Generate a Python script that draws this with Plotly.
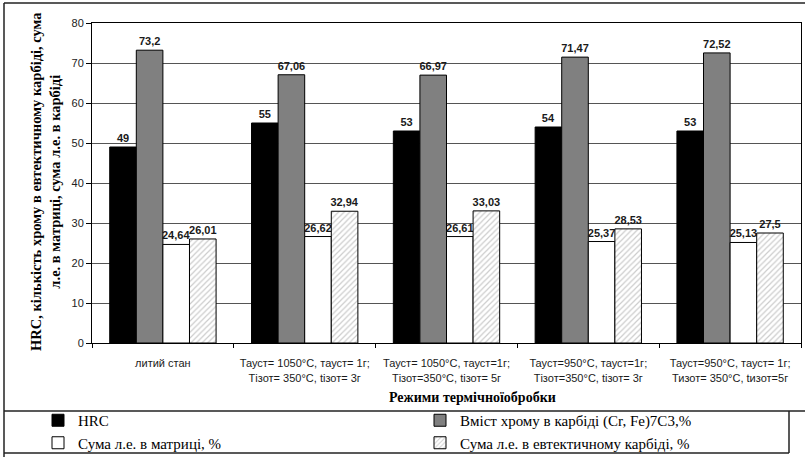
import plotly.graph_objects as go

# Heat-treatment regimes (x categories)
categories = [
    "литий стан",
    "Тауст= 1050°C, тауст= 1г;<br>Тізот= 350°C, tізот= 3г",
    "Тауст= 1050°C, тауст=1г;<br>Тізот=350°C, tізот= 5г",
    "Тауст=950°C, тауст=1г;<br>Тізот=350°C, tізот= 3г",
    "Тауст=950°C, тауст= 1г;<br>Тизот= 350°C, tизот=5г",
]

# Measured series
hrc = [49, 55, 53, 54, 53]
cr_carbide = [73.2, 67.06, 66.97, 71.47, 72.52]
alloy_matrix = [24.64, 26.62, 26.61, 25.37, 25.13]
alloy_eutectic = [26.01, 32.94, 33.03, 28.53, 27.5]

series_names = [
    "HRC",
    "Вміст хрому в карбіді (Cr, Fe)7C3,%",
    "Сума л.е. в матриці, %",
    "Сума л.е. в евтектичному карбіді, %",
]

y_ticks = [0, 10, 20, 30, 40, 50, 60, 70, 80]


def comma_label(v):
    return f"{v:g}".replace(".", ",")


W, H = 805, 457
L, R, T, B = 92, 4, 23, 114
PW, PH = W - L - R, H - T - B


def px(x):
    return (x - L) / PW


def py(y):
    return (H - B - y) / PH


fig = go.Figure()

styles = [
    dict(color="#000000"),
    dict(color="#808080"),
    dict(color="#ffffff"),
    dict(color="#ffffff", pattern=dict(shape="/", fgcolor="#9a9a9a",
                                       bgcolor="#ffffff", size=4, solidity=0.3)),
]

for name, vals, st in zip(series_names,
                          [hrc, cr_carbide, alloy_matrix, alloy_eutectic],
                          styles):
    fig.add_trace(go.Bar(
        name=name,
        x=categories,
        y=vals,
        text=[comma_label(v) for v in vals],
        textposition="outside",
        textfont=dict(family="Liberation Sans", size=11, color="#1a1a1a",
                      weight="bold"),
        constraintext="none",
        cliponaxis=False,
        marker=dict(line=dict(color="#000000", width=1), **st),
    ))

fig.update_layout(
    width=W, height=H,
    margin=dict(l=L, r=R, t=T, b=B, autoexpand=False),
    paper_bgcolor="white",
    plot_bgcolor="white",
    barmode="group",
    bargap=0.25,
    bargroupgap=0,
    font=dict(family="Liberation Sans", size=10, color="#1a1a1a"),
    showlegend=True,
    legend=dict(
        orientation="h",
        x=px(38), xanchor="left",
        y=py(404), yanchor="top",
        entrywidth=337, entrywidthmode="pixels",
        font=dict(family="Liberation Serif", size=15, color="#000000"),
        bgcolor="rgba(0,0,0,0)",
        tracegroupgap=0,
        traceorder="normal",
        itemwidth=30,
    ),
)

fig.update_yaxes(
    range=[0, 80],
    tickvals=y_ticks,
    ticks="outside", ticklen=5, tickcolor="#000000",
    tickfont=dict(family="Liberation Sans", size=11, color="#222222"),
    showline=True, linecolor="#000000", linewidth=1, mirror=True,
    showgrid=True, gridcolor="#555555", gridwidth=1,
    zeroline=False,
)
fig.update_xaxes(
    ticks="outside", tickson="boundaries", ticklen=4, tickcolor="#000000",
    tickfont=dict(family="Liberation Sans", size=11, color="#1a1a1a"),
    ticklabelstandoff=10,
    showline=True, linecolor="#000000", linewidth=1, mirror=True,
)

# Axis titles
fig.add_annotation(
    text="<b>HRC, кількість хрому в евтектичному карбіді, сума<br>л.е. в матриці, сума л.е. в карбіді</b>",
    xref="paper", yref="paper", x=px(45), y=py(182),
    xanchor="center", yanchor="middle",
    textangle=-90, showarrow=False, align="center",
    font=dict(family="Liberation Serif", size=14.5, color="#000000"),
)
fig.add_annotation(
    text="<b>Режими термічноїобробки</b>",
    xref="paper", yref="paper", x=px(472), y=py(397),
    xanchor="center", yanchor="middle",
    showarrow=False,
    font=dict(family="Liberation Serif", size=14, color="#000000"),
)

# Frame around the chart and the legend
frame = [
    dict(x0=px(4), x1=px(805), y0=py(3), y1=py(3)),
    dict(x0=px(4), x1=px(4), y0=py(3), y1=py(457)),
    dict(x0=px(4), x1=px(805), y0=py(411), y1=py(411)),
    dict(x0=px(4), x1=px(789), y0=py(453), y1=py(453)),
    dict(x0=px(789), x1=px(789), y0=py(411), y1=py(453)),
]
for f in frame:
    fig.add_shape(type="line", xref="paper", yref="paper",
                  line=dict(color="#222222", width=1.5), **f)

fig.write_html("out.html")
